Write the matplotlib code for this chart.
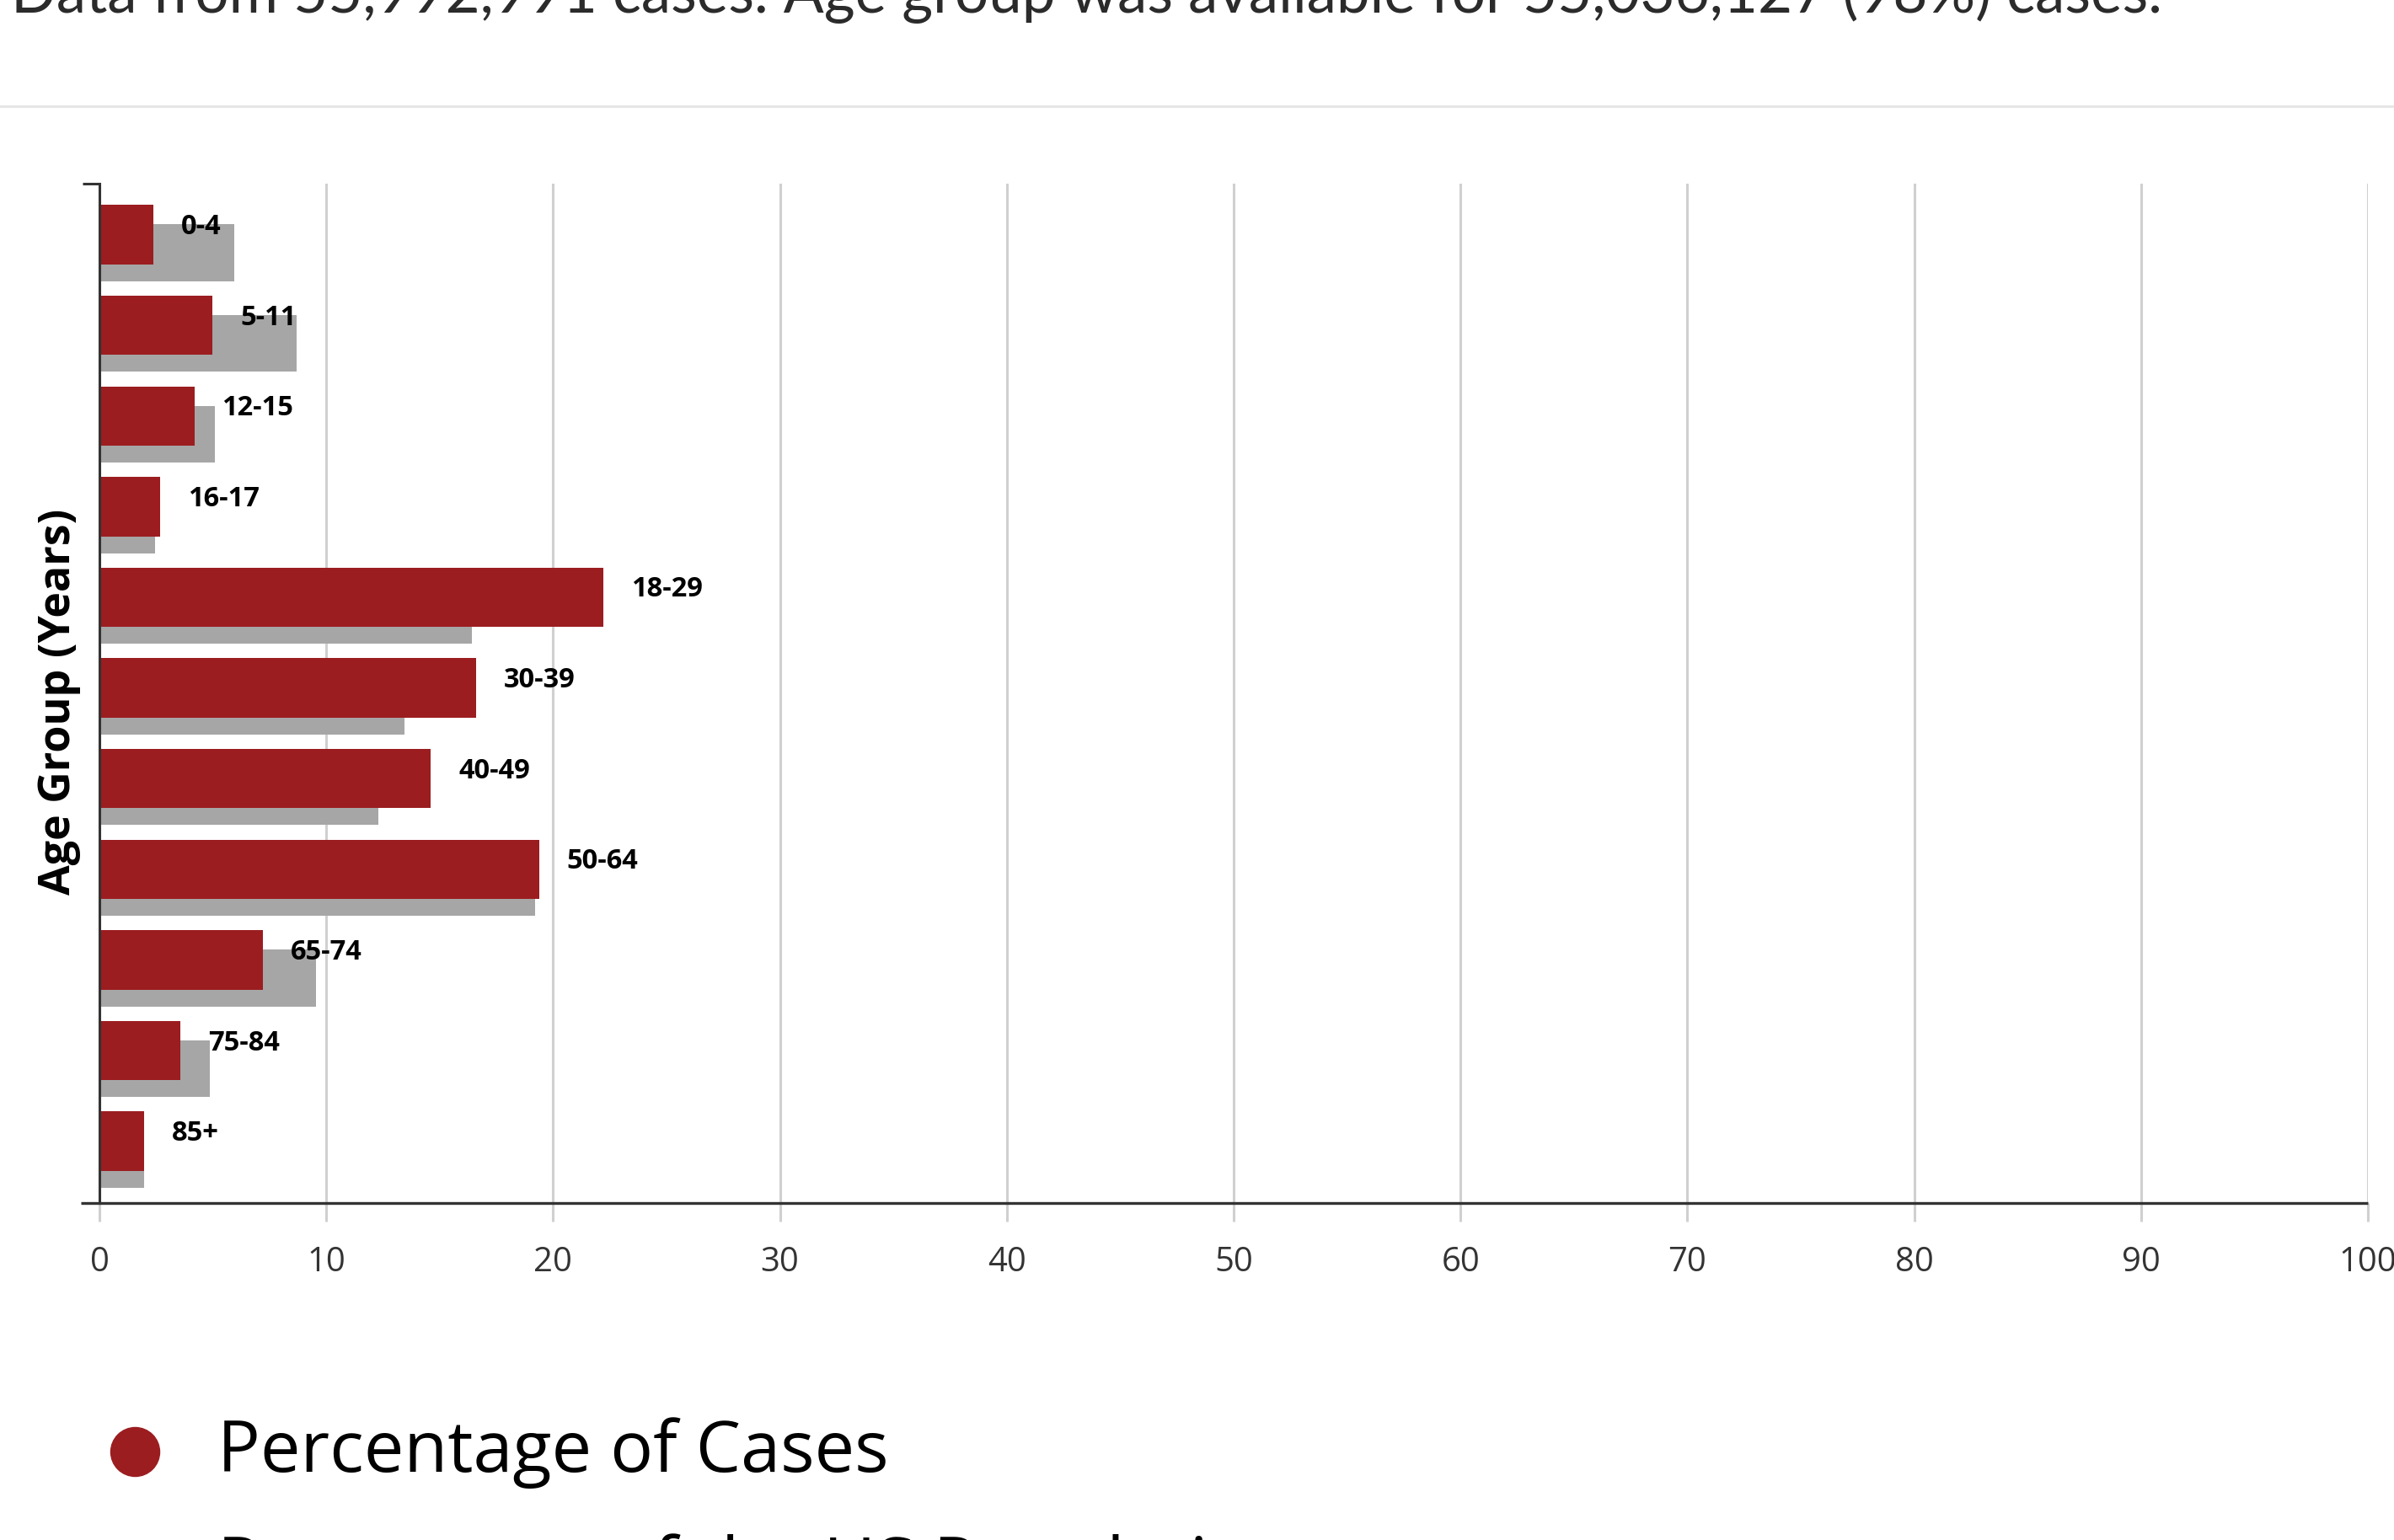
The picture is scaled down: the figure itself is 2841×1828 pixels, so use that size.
import matplotlib
matplotlib.use("Agg")
import matplotlib.pyplot as plt
from matplotlib.lines import Line2D
import numpy as np

# data
age_groups = ["0-4", "5-11", "12-15", "16-17", "18-29", "30-39",
              "40-49", "50-64", "65-74", "75-84", "85+"]
pct_cases = [2.39, 4.99, 4.18, 2.69, 22.2, 16.6, 14.6, 19.38, 7.19, 3.58, 1.98]
pct_population = [5.95, 8.68, 5.08, 2.47, 16.41, 13.46, 12.29, 19.2, 9.56, 4.88, 1.98]
x_ticks = [0, 10, 20, 30, 40, 50, 60, 70, 80, 90, 100]

subtitle = ("Data from 55,992,991 cases. Age group was available for "
            "55,036,127 (98%) cases.")
legend_labels = ["Percentage of Cases", "Percentage of the US Population"]

RED = "#9b1d20"
GREY = "#a6a6a6"
GRID = "#d0d0d0"
AXIS = "#333333"

W, H = 2841, 1828
DPI = 100


def fx(px):
    return px / W


def fy(py):
    # py measured from the top of the picture
    return 1 - py / H


fig = plt.figure(figsize=(W / DPI, H / DPI), dpi=DPI, facecolor="white")

# clipped subtitle at the very top + separator line
fig.text(fx(13), fy(15), subtitle, fontfamily="Lato", fontsize=51,
         color="#2b2b2b", ha="left", va="baseline")
fig.add_artist(Line2D([0, 1], [fy(125.5), fy(125.5)], transform=fig.transFigure,
                      color="#e6e6e6", linewidth=2.2))

ax_left, ax_right, ax_top, ax_bottom = 118, 2810, 218, 1428
ax = fig.add_axes([fx(ax_left), fy(ax_bottom), fx(ax_right - ax_left),
                   (ax_bottom - ax_top) / H])

y = np.arange(len(age_groups))
ax.barh(y + 0.107, pct_population, height=0.627, color=GREY, zorder=2)
ax.barh(y - 0.093, pct_cases, height=0.655, color=RED, zorder=3)

for yi, val, lab in zip(y, pct_cases, age_groups):
    ax.annotate(lab, (val, yi - 0.093), xytext=(33, 9), textcoords="offset pixels",
                fontfamily="Open Sans", fontweight="bold", fontsize=23.5,
                color="black", ha="left", va="center", zorder=4)

ax.set_xlim(0, 100)
ax.set_ylim(10.589, -0.656)
ax.set_xticks(x_ticks)
ax.set_xticklabels([str(t) for t in x_ticks], fontfamily="Open Sans",
                   fontsize=28.8, color=AXIS)
ax.tick_params(axis="x", length=15.8, width=2.2, color=GRID, pad=20.5)
ax.set_yticks([])
ax.grid(axis="x", color=GRID, linewidth=2.2, zorder=0)
ax.set_axisbelow(True)

for side in ["top", "right", "bottom"]:
    ax.spines[side].set_visible(False)
ax.spines["left"].set_color(AXIS)
ax.spines["left"].set_linewidth(2.2)
ax.spines["left"].set_zorder(5)

ax_w = ax_right - ax_left
# x axis line pokes out a little to the left of the y axis
ax.plot([-22 / ax_w, 1], [0, 0], transform=ax.transAxes, clip_on=False,
        color=AXIS, linewidth=2.4, zorder=6, solid_capstyle="butt")
# small tick at the top of the y axis
ax.plot([-20 / ax_w, 0], [1, 1], transform=ax.transAxes, clip_on=False,
        color=AXIS, linewidth=2.2, zorder=6, solid_capstyle="butt")

fig.text(fx(70), fy(833), "Age Group (Years)", fontfamily="Open Sans",
         fontweight="bold", fontsize=37.4, rotation=90, ha="center", va="center",
         color="black")

# legend, laid out by hand like the original (second row is cut off)
legend_colors = [RED, GREY]
for i, (lab, col) in enumerate(zip(legend_labels, legend_colors)):
    cy = 1723 + i * 138
    fig.add_artist(Line2D([fx(160)], [fy(cy)], transform=fig.transFigure,
                          marker="o", markersize=41.8, color=col, linestyle="none"))
    fig.text(fx(258), fy(1747 + i * 138), lab, fontfamily="Open Sans",
             fontsize=61, color="black", ha="left", va="baseline")

fig.savefig("out.png", dpi=DPI, facecolor="white")
